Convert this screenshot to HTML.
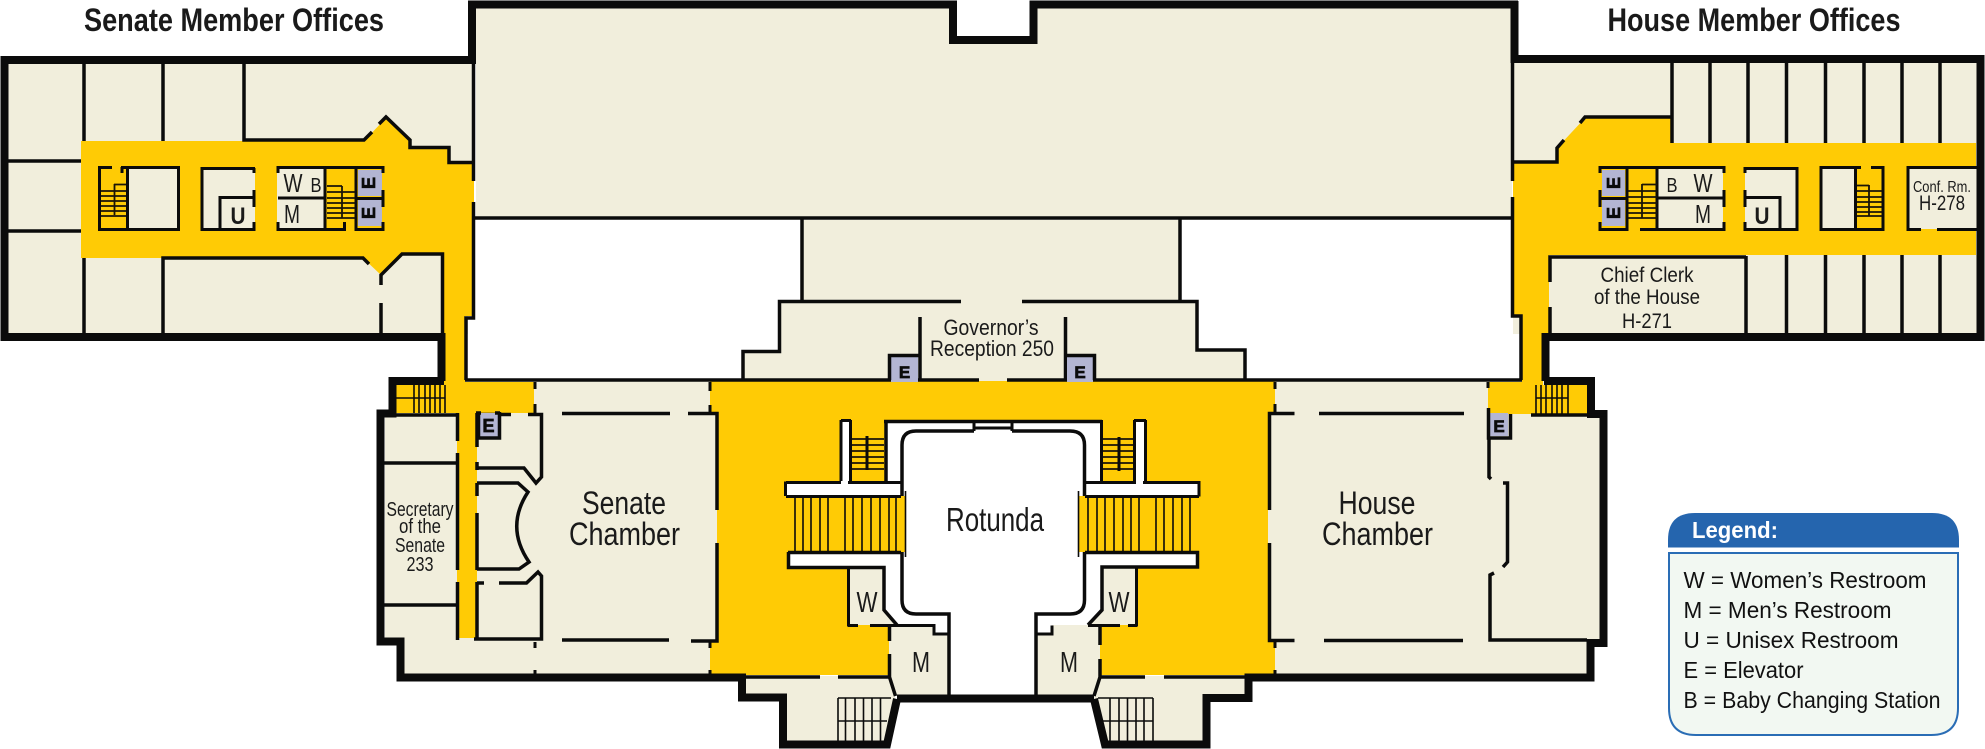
<!DOCTYPE html>
<html><head><meta charset="utf-8"><style>
html,body{margin:0;padding:0;background:#fff}
svg{display:block}
text{font-family:"Liberation Sans",sans-serif;fill:#1a1a1a}
.w{fill:none;stroke:#0b0b0b;stroke-width:3.5;stroke-miterlimit:6}
.t{fill:none;stroke:#0b0b0b;stroke-width:8;stroke-miterlimit:6}
.s{fill:none;stroke:#0b0b0b;stroke-width:3}
.h{fill:none;stroke:#0b0b0b;stroke-width:1.6}
.r{fill:none;stroke:#1a1408;stroke-width:1.8}
.b{fill:#f1eedc}.y{fill:#ffcb05}.g{fill:#b3b5d3}
.e{font-weight:bold;font-size:18px;fill:#0b0b0b;stroke:#0b0b0b;stroke-width:.7;text-anchor:middle}
.c{text-anchor:middle}
.l{font-size:23px;fill:#111}
</style></head><body>
<svg width="1985" height="749" viewBox="0 0 1985 749" xmlns="http://www.w3.org/2000/svg">
<rect width="1985" height="749" fill="#fff"/>

<!-- beige floors -->
<polygon class="b" points="476,8 953,8 953,40 1033,40 1033,8 1512,8 1512,218 476,218"/>
<rect class="b" x="8" y="63" width="466" height="271"/>
<rect class="b" x="1513" y="62" width="464" height="272"/>
<rect class="b" x="397" y="381" width="1190" height="294"/>
<rect class="b" x="385" y="416" width="1217" height="225"/>
<polygon class="b" points="746,676 889,676 895,697 887,742 786,742 786,700 746,700"/>
<polygon class="b" points="1094,697 1100,676 1245,676 1245,700 1204,700 1204,742 1104,742"/>
<!-- white voids over wings -->
<rect x="442" y="337" width="33" height="43" fill="#fff"/>
<rect x="1512" y="337" width="34" height="43" fill="#fff"/>
<rect x="468" y="220" width="1044" height="160" fill="#fff"/>
<polygon class="b" points="743,351 779,351 779,301 802,301 802,220 1180,220 1180,301 1197,301 1197,350 1245,350 1245,381 743,381"/>

<!-- yellow corridors -->
<polygon class="y" points="81,141 364,141 386,118 410,141 410,148 449,148 449,163 474,163 474,316 465,316 465,382 534,382 534,413 477,413 477,638 457,638 457,413 396,413 396,385 444,385 444,253 402,253 381,275 363,258 81,258"/>
<polygon class="y" points="710,381 1275,381 1275,412 1268,412 1268,642 1275,642 1275,675 710,675 710,642 717,642 717,412 710,412"/>
<polygon class="y" points="1513,163 1557,163 1557,148 1585,118 1672,118 1672,143 1976,143 1976,255 1549,255 1549,334 1543,334 1543,385 1587,385 1587,414 1488,414 1488,382 1522,382 1522,316 1513,316"/>
<rect class="b" x="1549" y="256" width="197" height="78"/>

<!-- rotunda white & rooms -->
<polygon fill="#fff" points="887,422 1100,422 1100,482 1199,482 1199,496 1085,496 1085,552 1197,552 1197,568 1102,568 1102,611 1088,625 1052,625 1052,633 1036,633 1036,696 949,696 949,633 933,633 933,625 897,625 884,611 884,568 787,568 787,552 901,552 901,496 785,496 785,482 887,482"/>
<rect x="840" y="420" width="11" height="62" fill="#fff"/>
<rect x="1134" y="420" width="13" height="62" fill="#fff"/>
<polygon class="b" points="848,568 884,568 884,611 897,625 848,625"/>
<polygon class="b" points="1102,568 1136,568 1136,625 1088,625 1102,611"/>
<polygon class="b" points="889,625 933,625 933,633 949,633 949,696 895,696 889,676"/>
<polygon class="b" points="1036,633 1052,633 1052,625 1100,625 1100,676 1094,696 1036,696"/>

<!-- main stairs -->
<rect class="y" x="794" y="496" width="112" height="56"/>
<rect class="y" x="1078" y="496" width="113" height="56"/>
<path class="h" d="M795,496V552M803,496V552M811,496V552M820,496V552M828,496V552M845,496V552M853,496V552M862,496V552M871,496V552M880,496V552M889,496V552M896,496V552M905.5,491V557M1078.5,491V557M1088,496V552M1097,496V552M1105,496V552M1114,496V552M1123,496V552M1131,496V552M1139,496V552M1156,496V552M1164,496V552M1173,496V552M1182,496V552M1190,496V552"/>

<!-- small stairs at rotunda -->
<rect class="y" x="851" y="438" width="33" height="42"/>
<rect class="y" x="1102" y="438" width="32" height="42"/>
<path class="r" d="M851,439H884M851,445H884M851,451H884M851,457H884M851,463H884M851,469H884M1102,439H1134M1102,445H1134M1102,451H1134M1102,457H1134M1102,463H1134M1102,469H1134"/>
<path class="s" d="M867,436V470M1119,437V471"/>

<!-- rotunda walls -->
<path class="s" d="M785.5,481.5V496M786,482.5H841M848,482.5H901.5M850.5,420V481M841,420V481M841,420.5H851"/>
<path class="s" style="stroke-width:3.5" d="M886,420V483M884,421.5H974M1012,421.5H1102M974,421.5H1012"/>
<path class="s" d="M973,428H1012M974,421V431M1012,421V431"/>
<path class="w" d="M974,431H916Q902,431 902,445V496M1012,431H1070Q1084.5,431 1084.5,445V496"/>
<path class="w" d="M902,552V600Q902,614 916,614H949V696M1084.5,552V600Q1084.5,614 1070,614H1036V696"/>
<path class="s" d="M1101.5,420V483M1085,482.5H1136M1143,482.5H1199V496.5M1134.5,420V481M1145.5,420V481M1134,420.5H1146"/>
<path class="s" d="M786,496.5H901M1085,496.5H1199"/>
<path class="w" d="M788,552.5H901M788.5,552V567.5H884V610L897,625M1085,552.5H1197.5V567H1102V610L1088,625"/>
<path class="s" d="M848.5,568V626.5M848,625.5H858M870,625.5H934V634H949M1136.5,568V626.5M1128,625.5H1137M1088,625.5H1120M1052,625.5V634H1036"/>
<path class="w" d="M889.5,625V641M889.5,654V677L895.5,696M1100,625V645M1100,659V677L1094,696"/>
<path class="t" d="M897,698.5H1094"/>
<path class="w" d="M708,677H820M838,677H889M1100,677H1145M1164,677H1250"/>

<!-- south stairs -->
<path class="h" d="M838,698H891M838,721H887M838,698V741M845.5,698V741M855,698V741M863.5,698V741M872,698V741M880.5,698V741M1098,698H1153M1100,721H1153M1110,698V741M1119,698V741M1127.5,698V741M1136,698V741M1144,698V741M1153,698V741"/>

<!-- outer thick walls -->
<path class="t" d="M472,1V60H4.5V337H441.5V381"/>
<path class="t" d="M444,381H392.5V413.5H380.5V641.5H400.5V677.5H742V697.5H783V744.5H887L897,699"/>
<path class="t" d="M1094,699L1105,744.5H1206.5V698H1248.5V677.5H1590.5V643H1603.5V414H1591V381H1544"/>
<path class="t" d="M1545.5,381V337H1980.5V59H1514.5V1"/>
<path class="t" d="M468,4.5H953V40H1033.5V4.5H1518"/>
<path class="w" d="M1531,415H1606M385,415H459"/>

<!-- central bottom wall etc -->
<path class="w" d="M474,218H1512"/>
<path class="w" d="M473.5,60V181M473.5,202V318H466V380"/>
<path class="w" d="M1512.5,60V181M1512.5,197V316H1521V380"/>
<path class="w" d="M465,380H897M912,380H979M1007,380H1071M1088,380H1522"/>

<!-- governor walls -->
<path class="w" d="M802,218V301.5M1180,218V301.5M961,301.5H779.5V351.5H743V380M1022,301.5H1197V350H1245V380M920,317V380M1065.5,317V380"/>
<rect x="891" y="356" width="27" height="26" class="g"/>
<rect x="1067" y="356" width="26" height="26" class="g"/>
<path class="w" d="M889.5,380V355.5H920M1064,355.5H1094.5V380"/>
<text class="e" x="904.5" y="378" style="font-size:17px">E</text>
<text class="e" x="1080" y="378" style="font-size:17px">E</text>

<!-- left wing partitions -->
<path class="w" d="M84,63V141M163,63V141M244,63V140H364L372,132M379,124L386,117L410,140V147.5H449V162.5H473"/>
<path class="w" d="M8,161H81M8,231H81M84,258V334M163,334V258H363L369,264M381,285V275L402,254H442.5V334M381,303V334"/>
<!-- left block 1 -->
<rect class="b" x="127" y="168" width="51" height="61"/>
<path class="s" d="M99.5,166V231M98,167.5H112M121,167.5H180M178.5,166V231M98,229.5H180M127.5,166V231M122,167V173"/>
<path class="r" d="M114.5,184V215M114,184.5H126M101,191H126M101,196H126M101,201H126M101,206H126M101,211H126M101,216H126"/>
<!-- left block 2 -->
<rect class="b" x="202" y="168" width="53" height="61"/>
<path class="s" d="M202,167V231M201,168.5H255M254,168V173M254,190V207M254,222V231M201,229.5H255M255,197.5H220V230"/>
<text class="c" x="238" y="224" font-size="24" font-weight="bold" textLength="15" lengthAdjust="spacingAndGlyphs">U</text>
<!-- left block 3 -->
<rect class="b" x="277" y="168" width="48" height="61"/>
<rect class="g" x="358" y="170" width="24" height="26"/>
<rect class="g" x="358" y="200" width="24" height="26"/>
<path class="s" d="M278,166V173M278,222V231M277,167.5H384M277,229.5H344M344.5,222V231M325,166V231M278,198H325M355,229.5H384M356,166V231M356,198.5H384M383,166V173M383,190V207M383,222V231"/>
<path class="r" d="M327,186H342M342,186V218M327,192H355M327,198H355M327,203H355M327,208H355M327,213H355M327,218H355"/>
<text class="e" transform="translate(375,183) rotate(-90)">E</text>
<text class="e" transform="translate(375,213) rotate(-90)">E</text>
<text class="c" x="293" y="192" font-size="26" textLength="19" lengthAdjust="spacingAndGlyphs">W</text>
<text class="c" x="316" y="192" font-size="20" textLength="11" lengthAdjust="spacingAndGlyphs">B</text>
<text class="c" x="292" y="223" font-size="26" textLength="16" lengthAdjust="spacingAndGlyphs">M</text>

<!-- right wing partitions -->
<path class="w" d="M1672,62V143M1710,62V143M1748,62V143M1786.5,62V143M1825.5,62V143M1864,62V143M1902,62V143M1940,62V143"/>
<path class="w" d="M1672,117H1585L1580,123M1564,140L1557,148V162H1514"/>
<path class="w" d="M1746,256V334M1786.5,255V334M1825.5,255V334M1864,255V334M1902,255V334M1940,255V334M1746,257H1550V282M1550,307V334"/>
<!-- right block A -->
<rect class="b" x="1657" y="168" width="66" height="61"/>
<rect class="g" x="1602" y="170" width="23" height="26"/>
<rect class="g" x="1602" y="200" width="23" height="26"/>
<path class="s" d="M1600,166V173M1600,190V207M1600,222V231M1599,167.5H1725M1724,166V173M1724,190V207M1724,222V231M1599,229.5H1628M1640,229.5H1725M1627,166V231M1600,198.5H1627M1657,166V231M1657,198H1724"/>
<path class="r" d="M1642,184V218M1642,184.5H1657M1628,191H1657M1628,197H1657M1628,203H1657M1628,208H1657M1628,213H1657M1628,218H1657"/>
<text class="e" transform="translate(1620,183) rotate(-90)">E</text>
<text class="e" transform="translate(1620,213) rotate(-90)">E</text>
<text class="c" x="1672" y="192" font-size="20" textLength="11" lengthAdjust="spacingAndGlyphs">B</text>
<text class="c" x="1703" y="192" font-size="26" textLength="19" lengthAdjust="spacingAndGlyphs">W</text>
<text class="c" x="1703" y="223" font-size="26" textLength="16" lengthAdjust="spacingAndGlyphs">M</text>
<!-- right block B -->
<rect class="b" x="1745" y="168" width="52" height="61"/>
<path class="s" d="M1745,167V173M1745,190V207M1745,222V231M1744,168.5H1798M1797,167V231M1744,229.5H1798M1745,197.5H1780V230"/>
<text class="c" x="1762" y="224" font-size="24" font-weight="bold" textLength="15" lengthAdjust="spacingAndGlyphs">U</text>
<!-- right block C -->
<rect class="b" x="1821" y="168" width="34" height="61"/>
<path class="s" d="M1821,166V231M1820,167.5H1861M1871,167.5H1884M1883,166V231M1820,229.5H1884M1855.5,166V231"/>
<path class="r" d="M1869,185V216M1857,185.5H1869M1857,191H1882M1857,197H1882M1857,202H1882M1857,207H1882M1857,212H1882M1857,216H1882"/>
<!-- right block D conf -->
<rect class="b" x="1908" y="168" width="68" height="61"/>
<path class="s" d="M1908,166V231M1907,167.5H1977M1907,229.5H1921M1937,229.5H1977"/>
<text class="c" x="1942" y="192" font-size="16" textLength="58" lengthAdjust="spacingAndGlyphs">Conf. Rm.</text>
<text class="c" x="1942" y="210" font-size="21" textLength="46" lengthAdjust="spacingAndGlyphs">H-278</text>

<!-- senate section -->
<path class="w" d="M384,463H457M384,605H457"/>
<path class="w" d="M457.5,413V441M457.5,453V570M457.5,582V640"/>
<path class="w" d="M477,413V447M477,462V470M477,483V496M477,513V570M477,582V640M474,639H541.5V576L538,572L526.5,583H499M484,583H477"/>
<path class="w" d="M476,414.5H511M528,414.5H541.5V477L536,483L524,468H477"/>
<path class="w" d="M477,483H518L528,492Q505,527 529,562L519,569H477"/>
<path class="w" d="M562,413.5H670M688,413.5H717V510M717,543V641H691M669,640H562"/>
<path class="s" d="M535,382V389M535,404V413M535,642V648M535,670V675M710,382V391M710,405V412M710,642V648M710,670V675"/>
<!-- senate E -->
<rect class="g" x="479" y="413" width="19" height="24"/>
<path class="s" style="stroke-width:3.5" d="M478.5,412V438H499.5V412M476,413H481M495,413H500"/>
<text class="e" x="488.5" y="432">E</text>
<!-- senate stair -->
<path class="h" d="M396,398H445M414,385V413M419,385V413M425,385V413M430,385V413M435,385V413M440,385V413M445,385V413"/>

<!-- west-house -->
<path class="w" d="M1269.5,510V413.5H1294.5M1319,413.5H1464M1269.5,543V640.5H1294.5M1324,640.5H1463"/>
<path class="s" d="M1275,382V389M1275,404V412M1275,642V648M1275,670V675M1488,382V388"/>
<path class="w" d="M1489,438V477L1491,479M1503,483H1507.5V562L1503,567M1494,573L1490,575V640H1587"/>
<rect class="g" x="1490" y="413" width="18" height="23"/>
<path class="s" style="stroke-width:3.5" d="M1488.5,408V438H1510.5V414"/>
<text class="e" x="1499" y="432" style="font-size:17px">E</text>
<path class="h" d="M1536,398H1568M1536,385V414M1541,385V414M1546,385V414M1552,385V414M1557,385V414M1562,385V414M1568,385V414"/>

<!-- labels -->
<text x="84" y="31" font-size="32" font-weight="bold" textLength="300" lengthAdjust="spacingAndGlyphs" fill="#000">Senate Member Offices</text>
<text x="1607.5" y="31" font-size="32" font-weight="bold" textLength="293" lengthAdjust="spacingAndGlyphs" fill="#000">House Member Offices</text>
<text class="c" x="1647" y="282" font-size="21" textLength="93" lengthAdjust="spacingAndGlyphs">Chief Clerk</text>
<text class="c" x="1647" y="304" font-size="21" textLength="106" lengthAdjust="spacingAndGlyphs">of the House</text>
<text class="c" x="1647" y="328" font-size="21" textLength="50" lengthAdjust="spacingAndGlyphs">H-271</text>
<text class="c" x="991" y="335" font-size="22" textLength="95" lengthAdjust="spacingAndGlyphs">Governor’s</text>
<text class="c" x="992" y="356" font-size="22" textLength="124" lengthAdjust="spacingAndGlyphs">Reception 250</text>
<text class="c" x="995" y="531" font-size="33" textLength="98" lengthAdjust="spacingAndGlyphs">Rotunda</text>
<text class="c" x="624" y="514" font-size="32" textLength="84" lengthAdjust="spacingAndGlyphs">Senate</text>
<text class="c" x="624.5" y="545" font-size="32" textLength="111" lengthAdjust="spacingAndGlyphs">Chamber</text>
<text class="c" x="1377" y="514" font-size="32" textLength="77" lengthAdjust="spacingAndGlyphs">House</text>
<text class="c" x="1377.5" y="545" font-size="32" textLength="111" lengthAdjust="spacingAndGlyphs">Chamber</text>
<text class="c" x="420" y="516" font-size="20" textLength="67" lengthAdjust="spacingAndGlyphs">Secretary</text>
<text class="c" x="420" y="533" font-size="20" textLength="42" lengthAdjust="spacingAndGlyphs">of the</text>
<text class="c" x="420" y="552" font-size="20" textLength="50" lengthAdjust="spacingAndGlyphs">Senate</text>
<text class="c" x="420" y="571" font-size="20" textLength="27" lengthAdjust="spacingAndGlyphs">233</text>
<text class="c" x="867" y="612" font-size="29" textLength="21" lengthAdjust="spacingAndGlyphs">W</text>
<text class="c" x="1119" y="612" font-size="29" textLength="21" lengthAdjust="spacingAndGlyphs">W</text>
<text class="c" x="921" y="672" font-size="29" textLength="18" lengthAdjust="spacingAndGlyphs">M</text>
<text class="c" x="1069" y="672" font-size="29" textLength="18" lengthAdjust="spacingAndGlyphs">M</text>

<!-- legend -->
<path d="M1668,547.5V540Q1668,513 1695,513H1932Q1959,513 1959,540V547.5Z" fill="#2565ae"/>
<text x="1692" y="538" font-size="23" font-weight="bold" textLength="86" lengthAdjust="spacingAndGlyphs" style="fill:#fff">Legend:</text>
<path d="M1669,553H1958V708Q1958,735 1931,735H1696Q1669,735 1669,708Z" fill="#f2f8f2" stroke="#2a6db5" stroke-width="2"/>
<text class="l" x="1683.5" y="588" textLength="243" lengthAdjust="spacingAndGlyphs">W = Women’s Restroom</text>
<text class="l" x="1683.5" y="618" textLength="208" lengthAdjust="spacingAndGlyphs">M = Men’s Restroom</text>
<text class="l" x="1683.5" y="648" textLength="215" lengthAdjust="spacingAndGlyphs">U = Unisex Restroom</text>
<text class="l" x="1683.5" y="678" textLength="120" lengthAdjust="spacingAndGlyphs">E = Elevator</text>
<text class="l" x="1683.5" y="708" textLength="257" lengthAdjust="spacingAndGlyphs">B = Baby Changing Station</text>
</svg>
</body></html>
